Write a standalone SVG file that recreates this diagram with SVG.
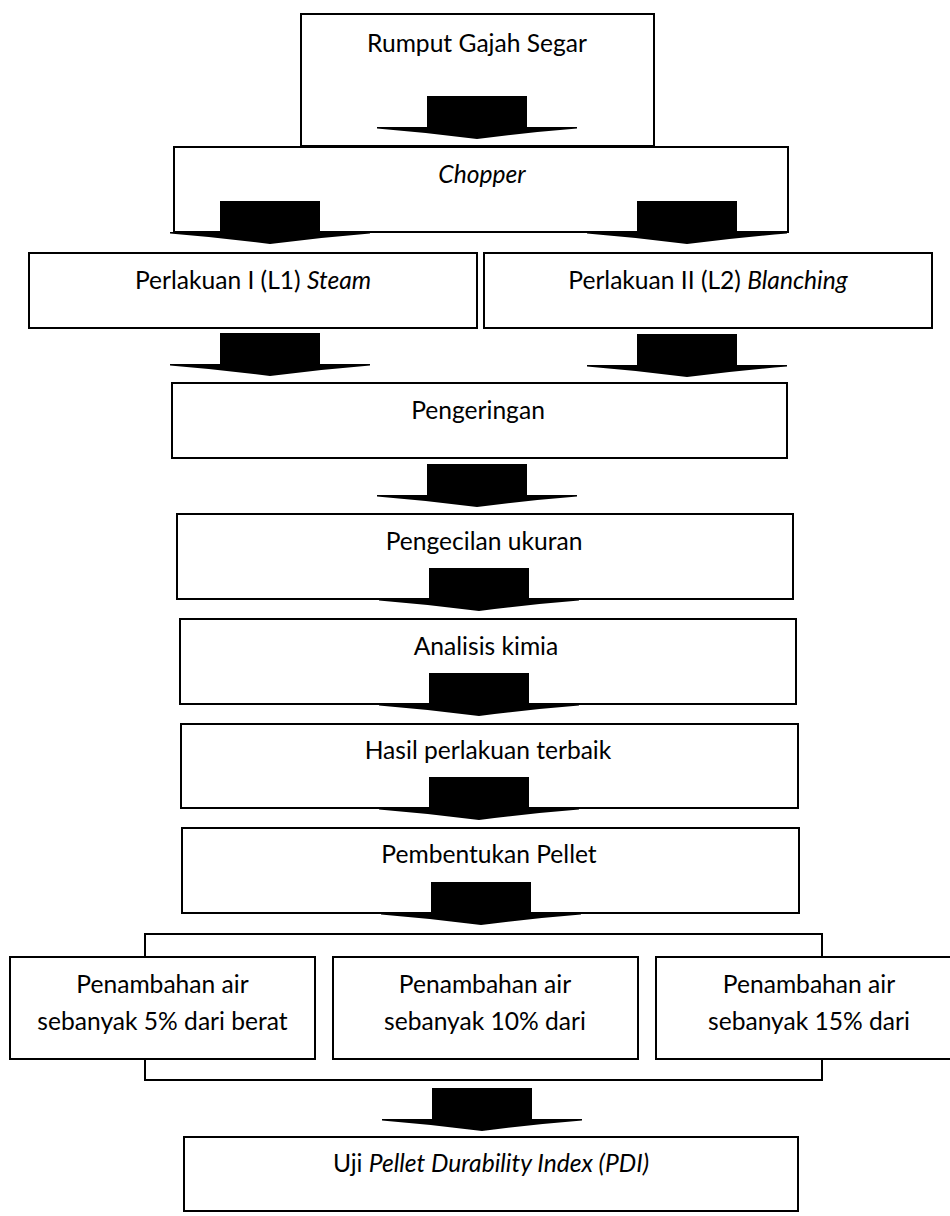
<svg xmlns="http://www.w3.org/2000/svg" xmlns:xlink="http://www.w3.org/1999/xlink" width="950" height="1216" viewBox="0 0 950 1216">
<style>
.box{fill:#fff;stroke:#000;stroke-width:2}
.t{font-family:Lato,"Open Sans","Liberation Sans",sans-serif;font-size:24.6px;fill:#000;text-anchor:middle}
.i{font-style:italic}
.arr{fill:#000}
</style>
<defs>
<path id="arrow" d="M -50,0 H 50 V 31 H 100 V 32.5 Q 50,36.5 0,43 Q -50,36.5 -100,32.5 V 31 H -50 Z"/>
</defs>
<rect width="950" height="1216" fill="#fff"/>
<g id="n-rumput"><rect class="box" x="301" y="14" width="353" height="132"/><text class="t" x="477" y="52">Rumput Gajah Segar</text></g>
<g id="n-chopper"><rect class="box" x="174" y="147" width="614" height="85"/><text class="t i" x="482" y="183">Chopper</text></g>
<g id="n-l1"><rect class="box" x="29" y="253" width="448" height="75"/><text class="t" x="253" y="289">Perlakuan I (L1) <tspan class="i">Steam</tspan></text></g>
<g id="n-l2"><rect class="box" x="484" y="253" width="448" height="75"/><text class="t" x="708" y="289">Perlakuan II (L2) <tspan class="i">Blanching</tspan></text></g>
<g id="n-pengeringan"><rect class="box" x="172" y="383" width="615" height="75"/><text class="t" x="478" y="419">Pengeringan</text></g>
<g id="n-pengecilan"><rect class="box" x="177" y="514" width="616" height="85"/><text class="t" x="484" y="550">Pengecilan ukuran</text></g>
<g id="n-analisis"><rect class="box" x="180" y="619" width="616" height="85"/><text class="t" x="486" y="655">Analisis kimia</text></g>
<g id="n-hasil"><rect class="box" x="181" y="724" width="617" height="84"/><text class="t" x="488" y="759">Hasil perlakuan terbaik</text></g>
<g id="n-pembentukan"><rect class="box" x="182" y="828" width="617" height="85"/><text class="t" x="489" y="863">Pembentukan Pellet</text></g>
<g id="n-bracket"><rect class="box" x="145" y="934" width="677" height="146"/></g>
<g id="n-air5"><rect class="box" x="10" y="957" width="305" height="102"/><text class="t" x="162.5" y="993">Penambahan air</text><text class="t" x="162.5" y="1030">sebanyak 5% dari berat</text></g>
<g id="n-air10"><rect class="box" x="333" y="957" width="305" height="102"/><text class="t" x="485" y="993">Penambahan air</text><text class="t" x="485" y="1030">sebanyak 10% dari</text></g>
<g id="n-air15"><rect class="box" x="656" y="957" width="306" height="102"/><text class="t" x="809" y="993">Penambahan air</text><text class="t" x="809" y="1030">sebanyak 15% dari</text></g>
<g id="n-uji"><rect class="box" x="184" y="1137" width="614" height="74"/><text class="t" x="491" y="1172">Uji <tspan class="i">Pellet Durability Index (PDI)</tspan></text></g>
<g id="connectors" class="arr">
<use xlink:href="#arrow" x="477" y="96"/>
<use xlink:href="#arrow" x="270" y="201"/>
<use xlink:href="#arrow" x="687" y="201"/>
<use xlink:href="#arrow" x="270" y="333"/>
<use xlink:href="#arrow" x="687" y="334"/>
<use xlink:href="#arrow" x="477" y="464"/>
<use xlink:href="#arrow" x="479" y="568"/>
<use xlink:href="#arrow" x="479" y="673"/>
<use xlink:href="#arrow" x="479" y="777"/>
<use xlink:href="#arrow" x="481" y="882"/>
<use xlink:href="#arrow" x="482" y="1088"/>
</g>
</svg>
